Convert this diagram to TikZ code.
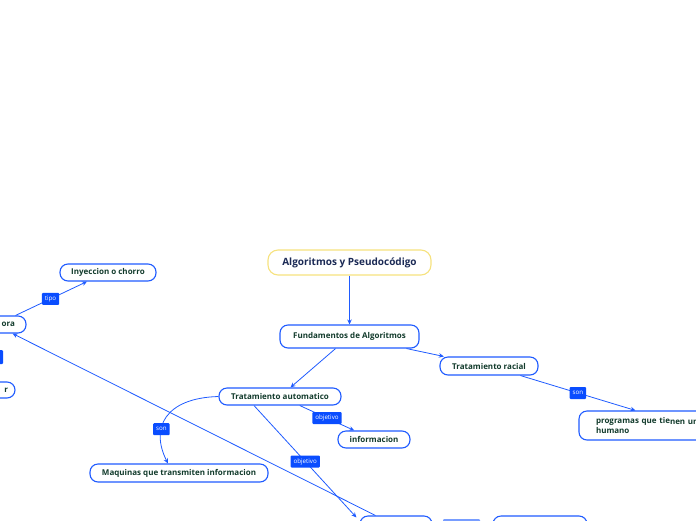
\documentclass[tikz,border=0pt]{standalone}
\usepackage{fontspec}
\setmainfont{Open Sans}
\usetikzlibrary{arrows.meta}
\definecolor{lineC}{HTML}{1F5BFF}
\definecolor{labC}{HTML}{0A4DFF}
\definecolor{txtC}{HTML}{123B2C}
\definecolor{rootT}{HTML}{1B2A55}
\definecolor{rootB}{HTML}{F6E27E}
\tikzset{
  mapnode/.style={draw=lineC, line width=1.1pt, rounded corners=8pt, fill=white,
    text=txtC, font=\bfseries\fontsize{8}{9.5}\selectfont, inner sep=0pt},
  rootnode/.style={draw=rootB, line width=1.1pt, rounded corners=10pt, fill=white,
    text=rootT, font=\bfseries\fontsize{10}{12}\selectfont, inner sep=0pt},
  lab/.style={fill=labC, text=white, font=\fontsize{6.2}{7}\selectfont, inner xsep=3pt,
    inner ysep=0pt, minimum height=12pt, rounded corners=1pt},
  conn/.style={draw=lineC, line width=0.8pt, -{Stealth[length=5pt,width=4.5pt]}}
}
\begin{document}
\begin{tikzpicture}[x=1pt,y=-1pt]
\useasboundingbox (0,0) rectangle (696,520);
\begin{scope}
\clip (0,0) rectangle (696,520);
% nodes
\node[rootnode, minimum width=163pt, minimum height=25pt] (root) at (349.5,262.5) {Algoritmos y Pseudocódigo};
\node[mapnode, minimum width=139pt, minimum height=23pt] (fund) at (349.5,336.5) {Fundamentos de Algoritmos};
\node[mapnode, minimum width=98pt, minimum height=18pt] (racial) at (489,366) {Tratamiento racial};
\node[mapnode, minimum width=160pt, minimum height=29pt, text width=126pt, align=left] (prog) at (659,425.5)
  {programas que tie\raisebox{-1.2pt}{nen un}\\humano};
\node[mapnode, minimum width=122pt, minimum height=17pt] (auto) at (280,396.5) {Tratamiento automatico};
\node[mapnode, minimum width=72pt, minimum height=17pt] (info) at (374,439.5) {informacion};
\node[mapnode, minimum width=178pt, minimum height=18pt] (maq) at (179,473) {Maquinas que transmiten informacion};
\node[mapnode, minimum width=96pt, minimum height=17pt] (iny) at (108,272.5) {Inyeccion o chorro};
\node[mapnode, minimum width=86pt, minimum height=17pt, text width=64pt, align=right] (ora) at (-17,324.5) {ora};
\node[mapnode, minimum width=75pt, minimum height=16pt, text width=61pt, align=right] (rn) at (-22.5,390) {r};
\node[lab, minimum width=23pt, minimum height=14pt] (lleft) at (-8.5,357) {};
\node[mapnode, minimum width=72pt, minimum height=20pt] (bot1) at (396,526) {};
\node[mapnode, minimum width=94pt, minimum height=20pt] (bot2) at (540,526) {};
\node[lab, minimum width=37pt, minimum height=12pt, fill=labC!55] (lbot) at (461.5,525) {};
% connectors
\draw[conn] (root) -- (fund);
\draw[conn] (fund) -- (racial);
\draw[conn] (fund) -- (auto);
\draw[conn] (racial) -- node[lab, pos=0.5] {son} ([xshift=57pt]prog.north west);
\draw[conn] (auto) -- node[lab, pos=0.5] {objetivo} (info);
\draw[conn] (auto.west) .. controls (165,398) and (150,428) .. node[lab, pos=0.65] {son} ([xshift=-11pt]maq.north);
\draw[conn] ([xshift=-26pt]auto.south) -- node[lab, pos=0.5] {objetivo} ([xshift=-3pt,yshift=-2pt]bot1.north west);
\draw[conn] ([xshift=16pt]bot1.north west) -- ([xshift=-14pt]ora.south east);
\draw[conn] ([xshift=-11pt]ora.north east) -- node[lab, pos=0.49] {tipo} ([xshift=-21pt]iny.south);
\end{scope}
\end{tikzpicture}
\end{document}
